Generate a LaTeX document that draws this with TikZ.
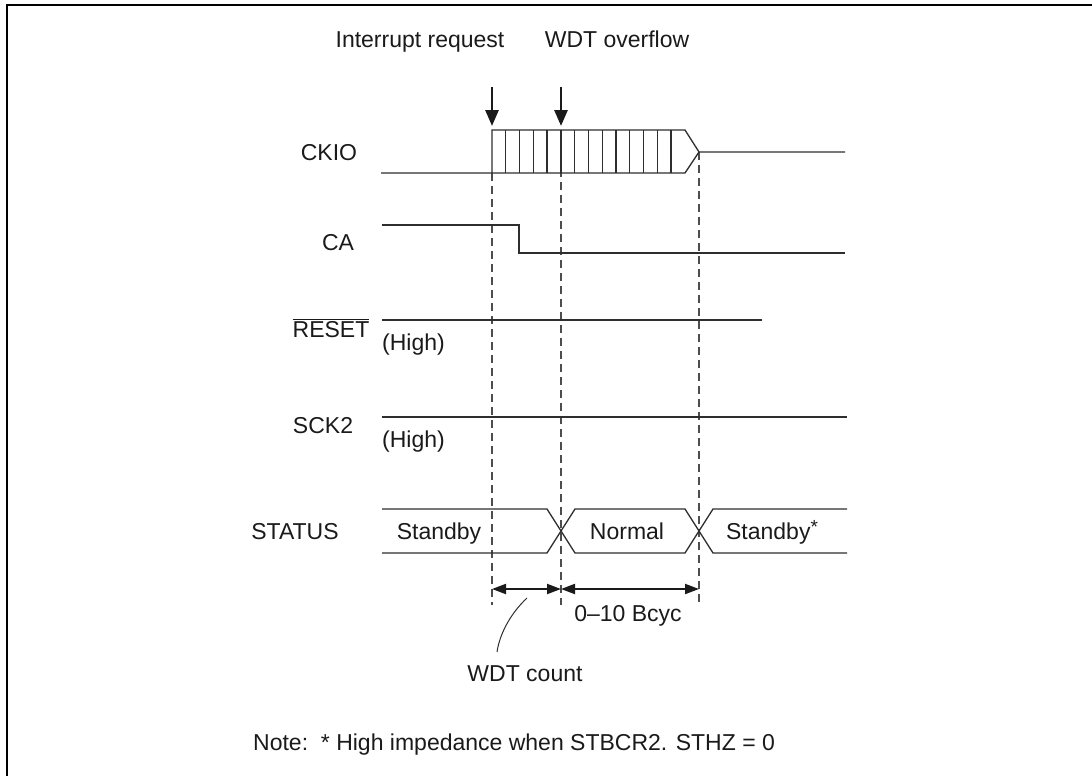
\documentclass[tikz,border=0pt]{standalone}
\usepackage{fontspec}
\setmainfont{Liberation Sans}
\usetikzlibrary{arrows.meta}
\definecolor{ink}{HTML}{1A1A1A}
\definecolor{wire}{HTML}{2E2E2E}
\begin{document}
\begin{tikzpicture}[x=1pt,y=-1pt,
  sig/.style={line width=1.3pt, draw=wire, line join=miter},
  guide/.style={line width=1.1pt, draw=wire!85, dash pattern=on 8pt off 5pt},
  lbl/.style={font=\fontsize{23}{27}\selectfont, text=ink, inner sep=0pt},
  bigarrow/.style={line width=2.8pt, draw=ink, -{Triangle[length=16pt,width=13pt]}},
  dimarrow/.style={line width=2pt, draw=ink, {Triangle[length=14pt,width=10pt]}-{Triangle[length=14pt,width=10pt]}}]
\useasboundingbox (0,0) rectangle (1092,776);
\draw[line width=1.6pt, draw=black] (1092,5) -- (7,5) -- (7,776);

% labels
\node[lbl, anchor=base] (ir) at (420,48) {Interrupt request};
\node[lbl, anchor=base] (wo) at (617,48) {WDT overflow};
\node[lbl, anchor=base] (ckio) at (329,160) {CKIO};
\node[lbl, anchor=base] (ca) at (338,250) {CA};
\node[lbl, anchor=base] (rst) at (331,337) {$\overline{\hbox{RESET}}$};
\node[lbl, anchor=base west] (hi1) at (382,350) {(High)};
\node[lbl, anchor=base] (sck) at (323,433) {SCK2};
\node[lbl, anchor=base west] (hi2) at (382,447) {(High)};
\node[lbl, anchor=base] (st) at (295,539) {STATUS};
\node[lbl, anchor=base] (sb1) at (439,539) {Standby};
\node[lbl, anchor=base] (nm) at (627,539) {Normal};
\node[lbl, anchor=base] (sb2) at (772,539) {Standby\raisebox{6pt}{\fontsize{19}{20}\selectfont *}};
\node[lbl, anchor=base] (bc) at (628,621) {0–10 Bcyc};
\node[lbl, anchor=base] (wc) at (525,681) {WDT count};
\node[lbl, anchor=base west] (note) at (253,750) {Note:\ \ * High impedance when STBCR2. STHZ = 0};

% request arrows
\coordinate (irtail) at (492,87);
\coordinate (irtip) at (492,126);
\coordinate (wotail) at (561,87);
\coordinate (wotip) at (561,126);
\draw[bigarrow] (irtail) -- (irtip);
\draw[bigarrow] (wotail) -- (wotip);

% guides
\draw[guide] (492,173) -- (492,605);
\draw[guide] (561,130) -- (561,605);
\draw[guide] (699,152) -- (699,605);

% CKIO
\draw[sig] (381,173) -- (685,173) -- (699,152) -- (845,152);
\draw[sig] (492,173) -- (492,130) -- (685,130) -- (699,152);
\foreach \i in {1,...,13} \draw[sig] (492+\i*13.77,130) -- (492+\i*13.77,173);

% CA
\draw[sig] (382,225) -- (519,225) -- (519,253) -- (845,253);
% RESET
\draw[sig] (382,320) -- (762,320);
% SCK2
\draw[sig] (382,417) -- (847,417);
% STATUS
\draw[sig] (382,509) -- (547,509) -- (575,553) -- (685,553) -- (713,509) -- (847,509);
\draw[sig] (382,553) -- (547,553) -- (575,509) -- (685,509) -- (713,553) -- (847,553);

% dimension arrows
\coordinate (d1) at (492,589);
\coordinate (d2) at (561,589);
\coordinate (d3) at (699,589);
\draw[dimarrow] (d1) -- (d2);
\draw[dimarrow] (d2) -- (d3);

% leader
\coordinate (lead) at (527,598);
\coordinate (leadend) at (497,652);
\draw[line width=1pt, draw=wire] (lead) .. controls (512,612) and (500,632) .. (leadend);
\end{tikzpicture}
\end{document}
